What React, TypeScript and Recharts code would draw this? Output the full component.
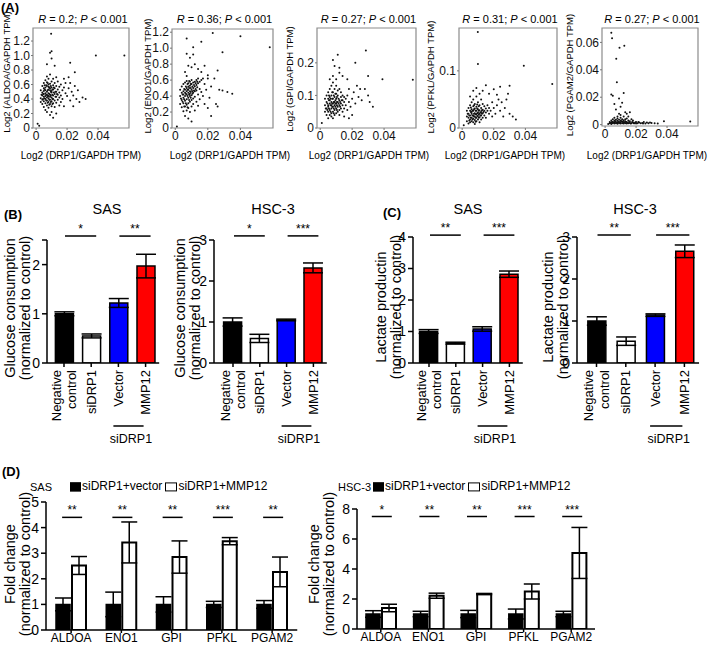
import React from "react";
import {
  ScatterChart,
  Scatter,
  BarChart,
  Bar,
  Cell,
  ErrorBar,
  XAxis,
  YAxis,
  ReferenceArea,
  ReferenceLine,
} from "recharts";

const FONT = '"Liberation Sans", Arial, Helvetica, sans-serif';

// ---------- (A) correlation scatter data: [DRP1, gene] ----------
const aldoaPts = [
  [0.003,0.41],[0.003,0.52],[0.003,0.36],[0.004,0.45],[0.004,0.58],[0.004,0.33],[0.004,0.49],[0.004,0.39],
  [0.005,0.43],[0.005,0.55],[0.005,0.62],[0.005,0.29],[0.005,0.47],[0.005,0.37],[0.005,0.51],
  [0.006,0.40],[0.006,0.48],[0.006,0.56],[0.006,0.66],[0.006,0.34],[0.006,0.25],[0.006,0.44],[0.006,0.52],
  [0.007,0.42],[0.007,0.50],[0.007,0.58],[0.007,0.31],[0.007,0.38],[0.007,0.46],[0.007,0.63],[0.007,0.71],[0.007,0.22],
  [0.008,0.44],[0.008,0.53],[0.008,0.60],[0.008,0.36],[0.008,0.48],[0.008,0.28],[0.008,0.41],[0.008,0.68],[0.008,0.57],
  [0.009,0.46],[0.009,0.52],[0.009,0.39],[0.009,0.33],[0.009,0.61],[0.009,0.43],[0.009,0.55],[0.009,0.74],[0.009,0.18],
  [0.010,0.49],[0.010,0.42],[0.010,0.56],[0.010,0.37],[0.010,0.64],[0.010,0.30],[0.010,0.51],
  [0.011,0.45],[0.011,0.53],[0.011,0.40],[0.011,0.59],[0.011,0.34],[0.011,0.68],[0.011,0.14],
  [0.012,0.47],[0.012,0.55],[0.012,0.38],[0.012,0.62],[0.012,0.29],
  [0.013,0.50],[0.013,0.43],[0.013,0.58],[0.013,0.35],[0.013,0.70],
  [0.014,0.46],[0.014,0.53],[0.014,0.39],[0.014,0.64],
  [0.015,0.49],[0.015,0.42],[0.015,0.57],[0.015,0.31],
  [0.016,0.45],[0.016,0.60],[0.016,0.36],
  [0.017,0.52],[0.017,0.40],[0.018,0.56],[0.018,0.30],[0.018,0.68],[0.019,0.48],[0.019,0.62],
  [0.020,0.44],[0.021,0.55],[0.022,0.38],[0.022,0.62],[0.023,0.50],[0.024,0.45],[0.025,0.58],[0.026,0.40],
  [0.027,0.52],[0.028,0.36],[0.030,0.42],[0.032,0.40],[0.024,0.30],
  [0.022,0.90],[0.025,0.77],[0.021,0.70],[0.012,0.86],[0.010,0.96],[0.009,1.04],[0.010,1.06],[0.007,0.88],
  [0.0097,1.30],[0.0386,1.0],[0.057,1.0],[0.001,0.06],[0.002,0.03],[0.010,0.22],[0.013,0.20],
  [0.0045,0.47],[0.0055,0.41],[0.0055,0.53],[0.0065,0.46],[0.0065,0.38],[0.0065,0.59],[0.0075,0.44],[0.0075,0.52],
  [0.0075,0.35],[0.0085,0.47],[0.0085,0.39],[0.0085,0.56],[0.0095,0.45],[0.0095,0.50],[0.0095,0.36],[0.0105,0.46],
  [0.0105,0.53],[0.0105,0.40],[0.0115,0.49],[0.0115,0.56],[0.0125,0.43],[0.0125,0.50],[0.0135,0.47],[0.0045,0.40],
  [0.0055,0.59],[0.0075,0.62],[0.0085,0.32],[0.0095,0.58],[0.0105,0.33],[0.0035,0.46],
];

const eno1Pts = [
  [0.003,0.40],[0.003,0.30],[0.003,0.48],[0.004,0.35],[0.004,0.44],[0.004,0.52],[0.004,0.26],
  [0.005,0.38],[0.005,0.46],[0.005,0.31],[0.005,0.55],[0.005,0.21],[0.005,0.42],
  [0.006,0.40],[0.006,0.48],[0.006,0.34],[0.006,0.57],[0.006,0.27],[0.006,0.15],[0.006,0.44],
  [0.007,0.42],[0.007,0.50],[0.007,0.36],[0.007,0.59],[0.007,0.29],[0.007,0.46],[0.007,0.22],[0.007,0.65],
  [0.008,0.44],[0.008,0.52],[0.008,0.38],[0.008,0.56],[0.008,0.31],[0.008,0.48],[0.008,0.12],[0.008,0.25],
  [0.009,0.46],[0.009,0.53],[0.009,0.40],[0.009,0.58],[0.009,0.33],[0.009,0.43],[0.009,0.20],
  [0.010,0.48],[0.010,0.55],[0.010,0.41],[0.010,0.35],[0.010,0.60],[0.010,0.27],[0.010,0.08],
  [0.011,0.50],[0.011,0.57],[0.011,0.44],[0.011,0.37],[0.011,0.30],
  [0.012,0.52],[0.012,0.58],[0.012,0.46],[0.012,0.39],[0.012,0.22],
  [0.013,0.54],[0.013,0.60],[0.013,0.47],[0.013,0.33],
  [0.014,0.56],[0.014,0.62],[0.014,0.42],[0.014,0.28],
  [0.015,0.58],[0.015,0.49],[0.015,0.36],
  [0.016,0.60],[0.016,0.45],[0.017,0.62],[0.017,0.40],[0.018,0.55],[0.018,0.30],[0.019,0.48],[0.020,0.62],
  [0.021,0.38],[0.022,0.52],[0.024,0.62],[0.025,0.30],[0.027,0.48],[0.029,0.47],[0.032,0.45],[0.035,0.43],
  [0.026,0.27],[0.022,0.15],[0.020,0.25],
  [0.006,0.70],[0.008,0.78],[0.010,0.76],[0.012,0.80],[0.014,0.74],[0.016,0.70],[0.018,0.78],[0.020,0.66],
  [0.026,0.72],[0.009,0.88],[0.011,0.92],[0.007,0.93],[0.011,1.01],[0.016,1.08],[0.007,1.12],[0.023,1.19],
  [0.040,1.15],[0.058,1.01],[0.029,0.95],[0.001,0.02],
  [0.0045,0.42],[0.0055,0.36],[0.0055,0.49],[0.0065,0.43],[0.0065,0.52],[0.0065,0.31],[0.0075,0.40],[0.0075,0.48],
  [0.0075,0.55],[0.0085,0.42],[0.0085,0.50],[0.0085,0.35],[0.0095,0.45],[0.0095,0.50],[0.0095,0.38],[0.0105,0.46],
  [0.0105,0.52],[0.0105,0.43],[0.0115,0.47],[0.0115,0.54],[0.0125,0.49],[0.0125,0.56],[0.0135,0.51],[0.0135,0.58],
  [0.0045,0.33],[0.0055,0.27],[0.0075,0.26],[0.0085,0.59],[0.0095,0.55],[0.0035,0.37],
];

const gpiPts = [
  [0.003,0.07],[0.003,0.05],[0.003,0.09],[0.004,0.06],[0.004,0.08],[0.004,0.10],[0.004,0.04],
  [0.005,0.07],[0.005,0.09],[0.005,0.05],[0.005,0.11],[0.005,0.03],[0.005,0.065],
  [0.006,0.075],[0.006,0.055],[0.006,0.095],[0.006,0.12],[0.006,0.04],[0.006,0.085],
  [0.007,0.07],[0.007,0.08],[0.007,0.06],[0.007,0.10],[0.007,0.045],[0.007,0.13],[0.007,0.035],
  [0.008,0.075],[0.008,0.09],[0.008,0.065],[0.008,0.11],[0.008,0.05],[0.008,0.14],[0.008,0.03],
  [0.009,0.08],[0.009,0.07],[0.009,0.095],[0.009,0.055],[0.009,0.12],[0.009,0.04],
  [0.010,0.075],[0.010,0.09],[0.010,0.06],[0.010,0.105],[0.010,0.045],[0.010,0.13],
  [0.011,0.08],[0.011,0.065],[0.011,0.10],[0.011,0.05],[0.011,0.115],
  [0.012,0.085],[0.012,0.07],[0.012,0.055],[0.012,0.12],[0.012,0.04],
  [0.013,0.075],[0.013,0.095],[0.013,0.06],[0.013,0.11],
  [0.014,0.085],[0.014,0.07],[0.014,0.10],[0.014,0.05],
  [0.015,0.08],[0.015,0.095],[0.015,0.06],
  [0.016,0.09],[0.016,0.07],[0.017,0.10],[0.017,0.055],[0.018,0.08],[0.018,0.12],[0.019,0.065],[0.020,0.09],
  [0.021,0.11],[0.022,0.075],[0.023,0.13],[0.024,0.095],[0.025,0.12],[0.026,0.085],[0.028,0.12],[0.030,0.10],
  [0.031,0.08],[0.033,0.065],[0.020,0.04],[0.018,0.03],[0.015,0.035],
  [0.006,0.15],[0.008,0.16],[0.010,0.15],[0.012,0.17],[0.014,0.16],[0.017,0.15],[0.009,0.19],[0.008,0.209],
  [0.011,0.225],[0.012,0.185],[0.022,0.20],[0.0286,0.238],[0.030,0.16],[0.039,0.15],[0.058,0.148],[0.001,0.015],
  [0.0045,0.075],[0.0055,0.06],[0.0055,0.085],[0.0065,0.07],[0.0065,0.09],[0.0065,0.05],[0.0075,0.075],[0.0075,0.065],
  [0.0075,0.09],[0.0085,0.08],[0.0085,0.06],[0.0085,0.1],[0.0095,0.075],[0.0095,0.085],[0.0095,0.065],[0.0105,0.08],
  [0.0105,0.07],[0.0105,0.095],[0.0115,0.075],[0.0115,0.09],[0.0125,0.08],[0.0125,0.065],[0.0135,0.085],[0.0045,0.055],
  [0.0055,0.1],[0.0075,0.11],[0.0085,0.045],[0.0095,0.105],[0.0105,0.055],[0.0035,0.06],
];

const pfklPts = [
  [0.003,0.02],[0.003,0.03],[0.003,0.012],[0.004,0.025],[0.004,0.018],[0.004,0.035],[0.004,0.008],
  [0.005,0.022],[0.005,0.03],[0.005,0.015],[0.005,0.04],[0.005,0.01],
  [0.006,0.025],[0.006,0.018],[0.006,0.033],[0.006,0.045],[0.006,0.012],[0.006,0.028],
  [0.007,0.022],[0.007,0.03],[0.007,0.016],[0.007,0.038],[0.007,0.01],[0.007,0.05],
  [0.008,0.026],[0.008,0.02],[0.008,0.034],[0.008,0.014],[0.008,0.042],[0.008,0.007],
  [0.009,0.024],[0.009,0.03],[0.009,0.018],[0.009,0.037],[0.009,0.012],[0.009,0.055],
  [0.010,0.027],[0.010,0.021],[0.010,0.033],[0.010,0.015],[0.010,0.045],
  [0.011,0.025],[0.011,0.031],[0.011,0.019],[0.011,0.04],[0.011,0.01],
  [0.012,0.028],[0.012,0.022],[0.012,0.035],[0.012,0.015],
  [0.013,0.026],[0.013,0.032],[0.013,0.018],[0.013,0.042],
  [0.014,0.03],[0.014,0.022],[0.014,0.038],
  [0.015,0.027],[0.015,0.034],[0.015,0.018],
  [0.016,0.03],[0.016,0.04],[0.017,0.025],[0.017,0.035],[0.018,0.03],[0.019,0.02],[0.019,0.045],[0.020,0.035],
  [0.021,0.025],[0.022,0.04],[0.023,0.05],[0.024,0.03],[0.025,0.045],[0.027,0.035],[0.028,0.05],[0.030,0.025],
  [0.032,0.02],[0.034,0.015],[0.026,0.02],
  [0.005,0.055],[0.007,0.065],[0.009,0.07],[0.011,0.06],[0.013,0.065],[0.015,0.075],[0.017,0.06],[0.020,0.068],
  [0.022,0.058],[0.024,0.072],[0.029,0.06],[0.030,0.074],[0.012,0.05],[0.010,0.112],[0.0099,0.168],
  [0.039,0.109],[0.057,0.077],[0.001,0.005],
  [0.0045,0.022],[0.0055,0.018],[0.0055,0.028],[0.0065,0.022],[0.0065,0.03],[0.0065,0.015],[0.0075,0.025],[0.0075,0.02],
  [0.0075,0.033],[0.0085,0.024],[0.0085,0.018],[0.0085,0.03],[0.0095,0.026],[0.0095,0.021],[0.0095,0.034],[0.0105,0.024],
  [0.0105,0.03],[0.0105,0.018],[0.0115,0.027],[0.0115,0.022],[0.0125,0.025],[0.0125,0.031],[0.0135,0.028],[0.0045,0.013],
  [0.0055,0.036],[0.0075,0.04],[0.0085,0.011],[0.0095,0.041],[0.0105,0.038],[0.0035,0.025],
];

const pgam2Pts = [
  [0.003,0.001],[0.003,0.002],[0.004,0.0005],[0.004,0.0015],[0.004,0.003],[0.005,0.001],[0.005,0.002],[0.005,0.004],
  [0.006,0.0008],[0.006,0.0018],[0.006,0.003],[0.006,0.005],
  [0.007,0.001],[0.007,0.002],[0.007,0.0035],[0.008,0.0007],[0.008,0.0015],[0.008,0.0028],[0.008,0.0045],[0.008,0.006],
  [0.009,0.001],[0.009,0.002],[0.009,0.0035],[0.010,0.0008],[0.010,0.0018],[0.010,0.003],[0.010,0.005],[0.010,0.007],
  [0.011,0.001],[0.011,0.0022],[0.011,0.004],[0.012,0.0009],[0.012,0.002],[0.012,0.0032],[0.012,0.006],
  [0.013,0.001],[0.013,0.0025],[0.013,0.004],[0.014,0.0008],[0.014,0.002],[0.014,0.0045],[0.015,0.001],[0.015,0.003],
  [0.016,0.0012],[0.016,0.0025],[0.017,0.001],[0.017,0.004],[0.018,0.0015],[0.018,0.003],[0.019,0.001],[0.020,0.002],
  [0.020,0.0008],[0.021,0.001],[0.022,0.0015],[0.023,0.001],[0.024,0.0012],[0.025,0.002],[0.026,0.0008],[0.027,0.0015],
  [0.028,0.001],[0.030,0.0012],[0.032,0.001],[0.034,0.0009],[0.038,0.0025],[0.055,0.0022],[0.002,0.0005],
  [0.004,0.022],[0.005,0.021],[0.006,0.015],[0.007,0.011],[0.0076,0.031],[0.009,0.019],[0.010,0.013],[0.011,0.016],
  [0.012,0.023],[0.013,0.009],[0.014,0.008],[0.015,0.006],[0.016,0.009],[0.009,0.008],[0.0072,0.048],[0.0124,0.0575],
  [0.0093,0.056],[0.0045,0.063],[0.004,0.067],
  [0.0035,0.0012],[0.0045,0.002],[0.0055,0.0015],[0.0065,0.0025],[0.0075,0.0012],[0.0085,0.002],[0.0095,0.0015],
  [0.0105,0.0025],[0.0115,0.0012],[0.0125,0.0015],[0.0135,0.002],[0.0145,0.0012],[0.0155,0.002],[0.0165,0.0008],
  [0.0175,0.002],[0.0185,0.001],[0.0195,0.0015],[0.0215,0.002],[0.0245,0.0008],[0.029,0.0015],
];

const scatterGenes = ["ALDOA", "ENO1", "GPI", "PFKL", "PGAM2"];
const scatterR = ["0.2", "0.36", "0.27", "0.31", "0.27"];
const scatterSets = [aldoaPts, eno1Pts, gpiPts, pfklPts, pgam2Pts];
const scatterYDomains = [[0, 1.38], [0, 1.24], [0, 0.307], [0, 0.175], [-0.001, 0.0705]];
const scatterYTicks = [
  [0, 0.2, 0.4, 0.6, 0.8, 1.0, 1.2],
  [0, 0.2, 0.4, 0.6, 0.8, 1.0, 1.2],
  [0, 0.1, 0.2],
  [0, 0.1],
  [0, 0.02, 0.04, 0.06],
];
const scatterYDecimals = [1, 1, 1, 1, 2];
const drp1Domain = [-0.002, 0.06];
const drp1Ticks = [0, 0.02, 0.04];

// ---------- (B) glucose / (C) lactate ----------
const groups = ["Negative control", "siDRP1", "Vector", "MMP12"];
const glucoseSAS = [1.0, 0.55, 1.22, 1.97];
const glucoseSASErr = [0.04, 0.04, 0.09, 0.24];
const glucoseHSC = [1.0, 0.6, 1.05, 2.32];
const glucoseHSCErr = [0.1, 0.1, 0.02, 0.12];
const lactateSAS = [1.0, 0.63, 1.08, 2.82];
const lactateSASErr = [0.06, 0.03, 0.07, 0.1];
const lactateHSC = [1.0, 0.52, 1.14, 2.66];
const lactateHSCErr = [0.1, 0.1, 0.03, 0.15];
const glucoseSASStars = ["*", "**"];
const glucoseHSCStars = ["*", "***"];
const lactateSASStars = ["**", "***"];
const lactateHSCStars = ["**", "***"];
const groupColors = ["#000000", "#ffffff", "#0000ff", "#ff0000"];

// ---------- (D) fold change ----------
const genes = ["ALDOA", "ENO1", "GPI", "PFKL", "PGAM2"];
const foldSASVector = [1, 1, 1, 1, 1];
const foldSASVectorErr = [0.25, 0.48, 0.3, 0.12, 0.15];
const foldSASMMP12 = [2.52, 3.42, 2.85, 3.47, 2.27];
const foldSASMMP12Err = [0.35, 0.8, 0.63, 0.14, 0.58];
const foldSASStars = ["**", "**", "**", "***", "**"];
const foldHSCVector = [1, 1, 1, 1, 1];
const foldHSCVectorErr = [0.22, 0.18, 0.24, 0.33, 0.18];
const foldHSCMMP12 = [1.4, 2.22, 2.33, 2.5, 5.07];
const foldHSCMMP12Err = [0.25, 0.17, 0.04, 0.5, 1.7];
const foldHSCStars = ["*", "**", "**", "***", "***"];

function Txt({ x, y, size = 12, bold = false, anchor = "middle", children }: any) {
  const tx = anchor === "middle" ? "-50%" : anchor === "end" ? "-100%" : "0";
  return (
    <div
      style={{
        position: "absolute",
        left: x,
        top: y,
        transform: `translate(${tx}, -50%)`,
        fontSize: size,
        fontWeight: bold ? 700 : 400,
        whiteSpace: "nowrap",
        lineHeight: 1.1,
        color: "#000",
      }}
    >
      {children}
    </div>
  );
}

function VTxt({ x, y, size = 14, lines }: any) {
  return (
    <div
      style={{
        position: "absolute",
        left: x,
        top: y,
        transform: "translate(-50%, -50%) rotate(-90deg)",
        fontSize: size,
        whiteSpace: "nowrap",
        lineHeight: `${size}px`,
        textAlign: "center",
        color: "#000",
      }}
    >
      {lines.map((l: string, i: number) => (
        <div key={i}>{l}</div>
      ))}
    </div>
  );
}

function Dot(p: any) {
  if (p.cx == null) return null;
  return <circle cx={p.cx} cy={p.cy} r={1} fill="#111" />;
}

function ScatterPanel({ idx, box }: any) {
  const [bl, bt, br, bb] = box;
  const padL = 32, padT = 4, padR = 4, padB = 20;
  const yd = scatterYDomains[idx];
  const dec = scatterYDecimals[idx];
  const data = scatterSets[idx].map(([x, y]) => ({ x, y }));
  return (
    <div style={{ position: "absolute", left: bl - padL, top: bt - padT }}>
      <ScatterChart
        width={br - bl + padL + padR}
        height={bb - bt + padT + padB}
        margin={{ top: padT, right: padR, bottom: 2, left: 2 }}
      >
        <XAxis
          type="number"
          dataKey="x"
          domain={drp1Domain}
          ticks={drp1Ticks}
          tickFormatter={(v: number) => (v === 0 ? "0" : v.toFixed(2))}
          height={padB - 2}
          tickSize={2}
          tickMargin={1}
          axisLine={false}
          tickLine={{ stroke: "#777" }}
          tick={{ fontSize: 12, fill: "#111", fontFamily: FONT }}
          interval={0}
          allowDataOverflow
        />
        <YAxis
          type="number"
          dataKey="y"
          domain={yd}
          ticks={scatterYTicks[idx]}
          tickFormatter={(v: number) => (v === 0 ? "0" : v.toFixed(dec))}
          width={padL - 2}
          tickSize={2}
          tickMargin={1}
          axisLine={false}
          tickLine={{ stroke: "#777" }}
          tick={{ fontSize: 12, fill: "#111", fontFamily: FONT }}
          interval={0}
          allowDataOverflow
        />
        <ReferenceArea
          x1={drp1Domain[0]}
          x2={drp1Domain[1]}
          y1={yd[0]}
          y2={yd[1]}
          fill="none"
          fillOpacity={0}
          stroke="#8c8c8c"
          strokeWidth={1.2}
          ifOverflow="visible"
        />
        <Scatter data={data} shape={Dot} isAnimationActive={false} />
      </ScatterChart>
    </div>
  );
}

function SigMark(p: any) {
  const { x1, y1, x2, stars, extL, extR } = p;
  if (x1 == null || y1 == null) return null;
  const a = x1 + extL;
  const b = x2 + extR;
  return (
    <g>
      <line x1={a} x2={b} y1={y1} y2={y1} stroke="#000" strokeWidth={1.5} />
      <text x={(a + b) / 2} y={y1 - 3} textAnchor="middle" fontSize={12} fontFamily={FONT} fill="#000">
        {stars}
      </text>
    </g>
  );
}

function GroupTick(p: any) {
  const { x, y, payload, index, step } = p;
  const lines = String(payload.value).split(" ");
  const lh = 16;
  const axisY = y - 6;
  return (
    <g>
      <text
        transform={`translate(${x},${y + 1}) rotate(-90)`}
        textAnchor="end"
        fontSize={13}
        fontFamily={FONT}
        fill="#000"
      >
        {lines.map((l, i) => (
          <tspan key={i} x={0} y={(i - (lines.length - 1) / 2) * lh + 4.5}>
            {l}
          </tspan>
        ))}
      </text>
      {index === 2 && (
        <g>
          <line x1={x - 5} x2={x + step - 2} y1={axisY + 63} y2={axisY + 63} stroke="#000" strokeWidth={1.5} />
          <text x={x + step / 2 - 1} y={axisY + 80} textAnchor="middle" fontSize={12.5} fontFamily={FONT} fill="#000">
            siDRP1
          </text>
        </g>
      )}
    </g>
  );
}

function GroupPanel({ values, errs, stars, level, yMax, yTicks, lay }: any) {
  const { x0, yTop, yBottom, first, step } = lay;
  const pad = first - step / 2 - x0;
  const xEnd = x0 + pad + groups.length * step;
  const padL = 40, padT = 35, padR = 6, padB = 85;
  const rows = groups.map((g, i) => ({ name: g, value: values[i], err: errs[i] }));
  return (
    <div style={{ position: "absolute", left: x0 - padL, top: yTop - padT }}>
      <BarChart
        width={xEnd - x0 + padL + padR}
        height={yBottom - yTop + padT + padB}
        data={rows}
        margin={{ top: padT, right: padR, bottom: 2, left: 2 }}
      >
        <XAxis
          dataKey="name"
          type="category"
          interval={0}
          height={padB - 2}
          padding={{ left: pad, right: 0 }}
          tickSize={4}
          tickMargin={2}
          axisLine={{ stroke: "#000", strokeWidth: 1.5 }}
          tickLine={{ stroke: "#000", strokeWidth: 1.5 }}
          tick={(tp: any) => <GroupTick {...tp} step={step} />}
        />
        <YAxis
          type="number"
          domain={[0, yMax]}
          ticks={yTicks}
          tickFormatter={(v: number) => (v === yMax && !Number.isInteger(v) ? "" : String(v))}
          width={padL - 2}
          tickSize={5}
          tickMargin={2}
          interval={0}
          axisLine={{ stroke: "#000", strokeWidth: 1.5 }}
          tickLine={{ stroke: "#000", strokeWidth: 1.5 }}
          tick={{ fontSize: 14, fill: "#000", fontFamily: FONT }}
          allowDataOverflow
        />
        <Bar dataKey="value" barSize={18} stroke="#000" strokeWidth={1.5} isAnimationActive={false}>
          {rows.map((r, i) => (
            <Cell key={r.name} fill={groupColors[i]} />
          ))}
          <ErrorBar dataKey="err" width={10} stroke="#000" strokeWidth={1.5} />
        </Bar>
        {stars.map((s: string, k: number) => (
          <ReferenceLine
            key={k}
            segment={[
              { x: groups[2 * k], y: level },
              { x: groups[2 * k + 1], y: level },
            ]}
            ifOverflow="visible"
            shape={(sp: any) => <SigMark {...sp} stars={s} extL={1} extR={5} />}
          />
        ))}
      </BarChart>
    </div>
  );
}

function FoldPanel({ vec, vecErr, mmp, mmpErr, stars, level, yMax, yTicks, lay }: any) {
  const { x0, yTop, yBottom, first, step } = lay;
  const pad = Math.max(0, first - step / 2 - x0);
  const xEnd = x0 + pad + genes.length * step;
  const padL = 40, padT = 12, padR = 6, padB = 15;
  const rows = genes.map((g, i) => ({ gene: g, vec: vec[i], vecErr: vecErr[i], mmp: mmp[i], mmpErr: mmpErr[i] }));
  return (
    <div style={{ position: "absolute", left: x0 - padL, top: yTop - padT }}>
      <BarChart
        width={xEnd - x0 + padL + padR}
        height={yBottom - yTop + padT + padB}
        data={rows}
        barSize={14}
        barGap={2}
        margin={{ top: padT, right: padR, bottom: 0, left: 2 }}
      >
        <XAxis
          dataKey="gene"
          type="category"
          interval={0}
          height={padB}
          padding={{ left: pad, right: 0 }}
          tickSize={3}
          tickMargin={0}
          axisLine={{ stroke: "#000", strokeWidth: 1.5 }}
          tickLine={{ stroke: "#000", strokeWidth: 1.5 }}
          tick={{ fontSize: 12, fill: "#000", fontFamily: FONT }}
        />
        <YAxis
          type="number"
          domain={[0, yMax]}
          ticks={yTicks}
          width={padL - 2}
          tickSize={5}
          tickMargin={2}
          interval={0}
          axisLine={{ stroke: "#000", strokeWidth: 1.5 }}
          tickLine={{ stroke: "#000", strokeWidth: 1.5 }}
          tick={{ fontSize: 14, fill: "#000", fontFamily: FONT }}
          allowDataOverflow
        />
        <Bar dataKey="vec" fill="#000" stroke="#000" strokeWidth={1.5} isAnimationActive={false}>
          <ErrorBar dataKey="vecErr" width={8} stroke="#000" strokeWidth={1.5} />
        </Bar>
        <Bar dataKey="mmp" fill="#fff" stroke="#000" strokeWidth={2} isAnimationActive={false}>
          <ErrorBar dataKey="mmpErr" width={8} stroke="#000" strokeWidth={1.5} />
        </Bar>
        {stars.map((s: string, k: number) => (
          <ReferenceLine
            key={k}
            segment={[
              { x: genes[k], y: level },
              { x: genes[k], y: level },
            ]}
            ifOverflow="visible"
            shape={(sp: any) => <SigMark {...sp} stars={s} extL={-9} extR={11} />}
          />
        ))}
      </BarChart>
    </div>
  );
}

function LegendBox({ filled }: any) {
  return (
    <span
      style={{
        display: "inline-block",
        width: filled ? 9 : 10,
        height: 7,
        background: filled ? "#000" : "#fff",
        border: "1.5px solid #000",
        marginRight: 1,
      }}
    />
  );
}

function FoldLegend({ x, y }: any) {
  return (
    <div
      style={{
        position: "absolute",
        left: x,
        top: y,
        transform: "translateY(-50%)",
        fontSize: 12,
        whiteSpace: "nowrap",
        lineHeight: 1.1,
        display: "flex",
        alignItems: "center",
      }}
    >
      <LegendBox filled />
      <span>siDRP1+vector</span>
      <span style={{ width: 3 }} />
      <LegendBox />
      <span>siDRP1+MMP12</span>
    </div>
  );
}

const scatterBoxes = [
  [33, 28, 129, 128],
  [172, 29, 273, 128],
  [317, 28, 416, 128],
  [459, 28, 557, 128],
  [602, 28, 698, 126],
];
const scatterYLabelPos = [[7, 72], [148, 76], [290, 79], [431, 77], [570, 75]];
const scatterXLabelX = [81, 230, 369, 505, 647];

const glucoseSASLay = { x0: 47, yTop: 240, yBottom: 363, first: 64, step: 27.2 };
const glucoseHSCLay = { x0: 214, yTop: 240, yBottom: 363, first: 233, step: 26.8 };
const lactateSASLay = { x0: 413, yTop: 237, yBottom: 363, first: 429, step: 26.8 };
const lactateHSCLay = { x0: 577, yTop: 237, yBottom: 363, first: 596.5, step: 29.3 };
const foldSASLay = { x0: 46, yTop: 502, yBottom: 630, first: 71, step: 50.25 };
const foldHSCLay = { x0: 357, yTop: 509, yBottom: 629, first: 378, step: 47.6 };

export default function App() {
  return (
    <div
      style={{
        position: "absolute",
        left: 0,
        top: 0,
        width: 709,
        height: 645,
        overflow: "hidden",
        background: "#fff",
        fontFamily: FONT,
        color: "#000",
      }}
    >
      {/* (A) */}
      <Txt x={1} y={8} size={13} bold anchor="start">(A)</Txt>
      {scatterBoxes.map((b, i) => (
        <React.Fragment key={i}>
          <ScatterPanel idx={i} box={b} />
          <Txt x={(b[0] + b[2]) / 2 + 2} y={19} size={11}>
            <i>R</i> = {scatterR[i]}; <i>P</i> &lt; 0.001
          </Txt>
          <Txt x={scatterXLabelX[i]} y={155} size={10}>Log2 (DRP1/GAPDH TPM)</Txt>
          <VTxt x={scatterYLabelPos[i][0]} y={scatterYLabelPos[i][1]} size={9.5} lines={[`Log2 (${scatterGenes[i]}/GAPDH TPM)`]} />
        </React.Fragment>
      ))}

      {/* (B) */}
      <Txt x={4} y={215} size={13} bold anchor="start">(B)</Txt>
      <Txt x={107} y={210} size={14.5}>SAS</Txt>
      <Txt x={273} y={210} size={14.5}>HSC-3</Txt>
      <VTxt x={16.5} y={308} size={14.5} lines={["Glucose consumption", "(normalized to control)"]} />
      <VTxt x={186.5} y={308} size={14.5} lines={["Glucose consumption", "(normalized to control)"]} />
      <GroupPanel values={glucoseSAS} errs={glucoseSASErr} stars={glucoseSASStars} level={2.58} yMax={2.5} yTicks={[0, 1, 2, 2.5]} lay={glucoseSASLay} />
      <GroupPanel values={glucoseHSC} errs={glucoseHSCErr} stars={glucoseHSCStars} level={3.1} yMax={3} yTicks={[0, 1, 2, 3]} lay={glucoseHSCLay} />

      {/* (C) */}
      <Txt x={383} y={213} size={13} bold anchor="start">(C)</Txt>
      <Txt x={468} y={210} size={14.5}>SAS</Txt>
      <Txt x={635} y={210} size={14.5}>HSC-3</Txt>
      <VTxt x={387.5} y={307} size={14.5} lines={["Lactate productin", "(normalized to control)"]} />
      <VTxt x={554.5} y={307} size={14.5} lines={["Lactate productin", "(normalized to control)"]} />
      <GroupPanel values={lactateSAS} errs={lactateSASErr} stars={lactateSASStars} level={4.06} yMax={4} yTicks={[0, 1, 2, 3, 4]} lay={lactateSASLay} />
      <GroupPanel values={lactateHSC} errs={lactateHSCErr} stars={lactateHSCStars} level={3.05} yMax={3} yTicks={[0, 1, 2, 3]} lay={lactateHSCLay} />

      {/* (D) */}
      <Txt x={2} y={472} size={13} bold anchor="start">(D)</Txt>
      <Txt x={30} y={487} size={11} anchor="start">SAS</Txt>
      <FoldLegend x={70} y={487} />
      <Txt x={338} y={487} size={11} anchor="start">HSC-3</Txt>
      <FoldLegend x={373} y={487} />
      <VTxt x={16.5} y={564} size={14.5} lines={["Fold change", "(normalized to control)"]} />
      <VTxt x={320.5} y={564} size={14.5} lines={["Fold change", "(normalized to control)"]} />
      <FoldPanel vec={foldSASVector} vecErr={foldSASVectorErr} mmp={foldSASMMP12} mmpErr={foldSASMMP12Err} stars={foldSASStars} level={4.4} yMax={5} yTicks={[0, 1, 2, 3, 4, 5]} lay={foldSASLay} />
      <FoldPanel vec={foldHSCVector} vecErr={foldHSCVectorErr} mmp={foldHSCMMP12} mmpErr={foldHSCMMP12Err} stars={foldHSCStars} level={7.5} yMax={8} yTicks={[0, 2, 4, 6, 8]} lay={foldHSCLay} />
    </div>
  );
}
